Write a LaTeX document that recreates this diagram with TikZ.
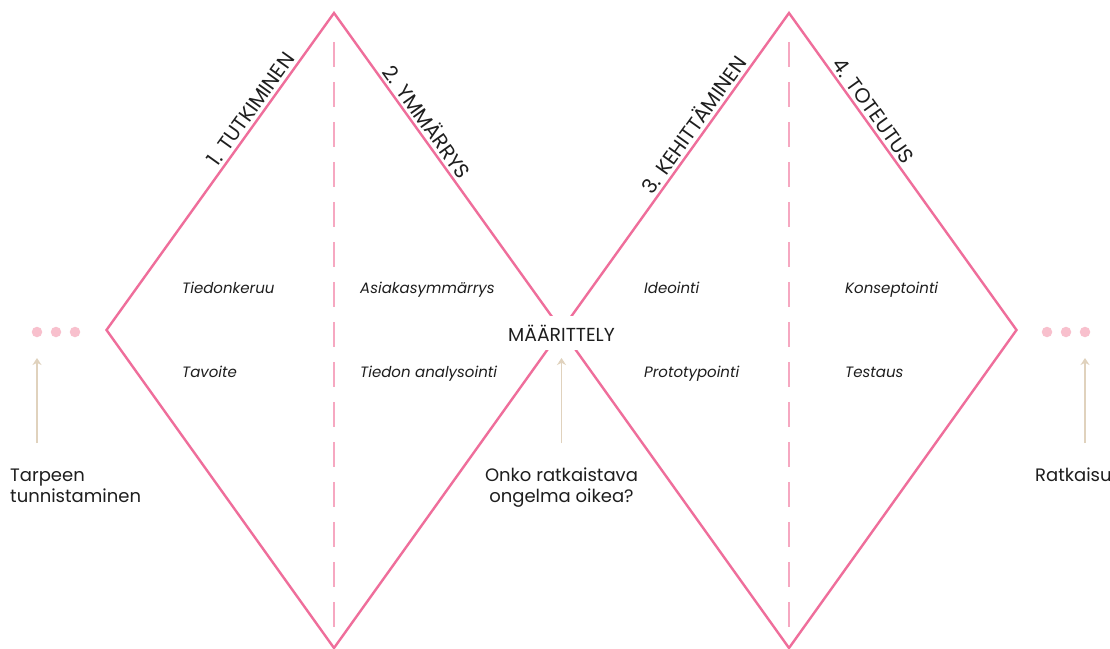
\documentclass[tikz,border=0pt]{standalone}
\usepackage{fontspec}
\setmainfont{Poppins}
\usetikzlibrary{arrows.meta}

\definecolor{rose}{HTML}{EF6E9B}
\definecolor{roselight}{HTML}{F6A8C1}
\definecolor{dotpink}{HTML}{F8C0CD}
\definecolor{sand}{HTML}{E0D2BD}
\definecolor{ink}{HTML}{1E1E1E}

\tikzset{
  edge/.style={draw=rose, line width=2.4pt, line join=miter},
  guide/.style={draw=roselight, line width=1.5pt, dash pattern=on 25pt off 15pt},
  dot/.style={circle, fill=dotpink, minimum size=10.5pt, inner sep=0pt},
  cue/.style={draw=sand, line width=1.3pt, -{Stealth[length=7pt, width=9pt]}},
  phase/.style={sloped, above, inner sep=4pt, text=ink, font=\fontsize{20.5}{24}\selectfont},
  task/.style={anchor=base west, inner sep=0pt, text=ink, font=\fontsize{15}{18}\selectfont\itshape},
  note/.style={inner sep=0pt, text=ink, font=\fontsize{18}{21}\selectfont},
}

\begin{document}
\begin{tikzpicture}[x=1pt, y=-1pt]
\useasboundingbox (0,0) rectangle (1110,648);
\fill[white] (0,0) rectangle (1110,648);

% corner points of the two diamonds
\coordinate (aL) at (106.5,330);
\coordinate (aT) at (334,13);
\coordinate (aB) at (334,648);
\coordinate (X)  at (561.5,330);
\coordinate (bT) at (789,13);
\coordinate (bB) at (789,648);
\coordinate (bR) at (1016.5,330);

% dashed centre lines
\coordinate (ga1) at (334,42);  \coordinate (ga2) at (334,627);
\coordinate (gb1) at (789,42);  \coordinate (gb2) at (789,627);
\draw[guide] (ga1) -- (ga2);
\draw[guide] (gb1) -- (gb2);

% the double diamond
\draw[edge] (aL) -- (aT) -- (X) -- (aB) -- cycle;
\draw[edge] (X) -- (bT) -- (bR) -- (bB) -- cycle;

% phase titles along the edges
\path (aL) -- (aT) node[phase, pos=0.675] (p1) {1. TUTKIMINEN};
\path (aT) -- (X)  node[phase, pos=0.366] (p2) {2. YMMÄRRYS};
\path (X) -- (bT)  node[phase, pos=0.625] (p3) {3. KEHITTÄMINEN};
\path (bT) -- (bR) node[phase, pos=0.330] (p4) {4. TOTEUTUS};

% activities inside the diamonds
\node[task] (t1) at (182,293) {Tiedonkeruu};
\node[task] (t2) at (182,377) {Tavoite};
\node[task] (t3) at (360,293) {Asiakasymmärrys};
\node[task] (t4) at (360,377) {Tiedon analysointi};
\node[task] (t5) at (644,293) {Ideointi};
\node[task] (t6) at (644,377) {Prototypointi};
\node[task] (t7) at (845,293) {Konseptointi};
\node[task] (t8) at (845,377) {Testaus};

% definition point where the diamonds meet
\node[note, fill=white, inner xsep=4pt, inner ysep=9pt, font=\fontsize{18.8}{21}\selectfont] (def) at (561.5,333) {MÄÄRITTELY};

% ellipsis dots at both ends
\node[dot] (l1) at (37,332) {};
\node[dot] (l2) at (56,332) {};
\node[dot] (l3) at (75,332) {};
\node[dot] (r1) at (1047,332) {};
\node[dot] (r2) at (1066,332) {};
\node[dot] (r3) at (1085,332) {};

% captions below (base anchor sits on the last line)
\node[note, anchor=base west, align=left] (c1) at (10,502) {Tarpeen\\tunnistaminen};
\node[note, anchor=base, align=center] (c2) at (561.5,502) {Onko ratkaistava\\ongelma oikea?};
\node[note, anchor=base west] (c3) at (1035,481) {Ratkaisu};

% arrows from the captions up to the diagram
\coordinate (a1s) at (37,443);   \coordinate (a1e) at (37,358);
\coordinate (a2s) at (561.5,443);\coordinate (a2e) at (561.5,358);
\coordinate (a3s) at (1085,443); \coordinate (a3e) at (1085,358);
\draw[cue] (a1s) -- (a1e);
\draw[cue] (a2s) -- (a2e);
\draw[cue] (a3s) -- (a3e);
\end{tikzpicture}
\end{document}
